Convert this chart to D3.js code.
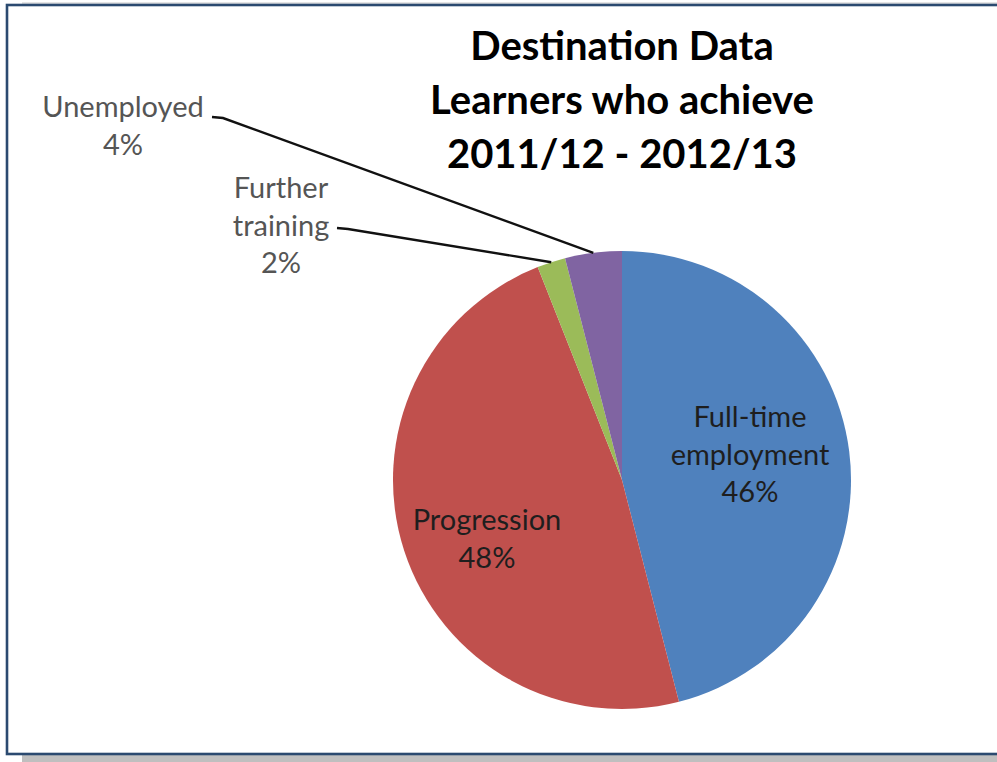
<!DOCTYPE html>
<html>
<head>
<meta charset="utf-8">
<script src="https://cdn.jsdelivr.net/npm/d3@7"></script>
<style>
  body { margin: 0; background: #fff; }
  svg { display: block; }
</style>
</head>
<body>
<svg id="chart" width="997" height="762"></svg>
<script>
// Slices, clockwise from 12 o'clock
const categories = ["Full-time employment", "Progression", "Further training", "Unemployed"];
const values = [46, 48, 2, 4];
const labelLines = [["Full-time", "employment"], ["Progression"], ["Further", "training"], ["Unemployed"]];
const colours = ["#4F81BD", "#C0504D", "#9BBB59", "#8064A2"];
const titleLines = ["Destination Data", "Learners who achieve", "2011/12 - 2012/13"];

const FONT = "Lato, 'Open Sans', sans-serif";
const width = 997, height = 762;
const cx = 622, cy = 480, radius = 229;

// where each label block sits (centre x, first baseline) and whether it gets a leader line
const labelPlace = [
    { x: 750, y: 427, inside: true },
    { x: 487, y: 530, inside: true },
    { x: 281, y: 198, inside: false, lineFrom: [337, 228] },
    { x: 123, y: 117, inside: false, lineFrom: [212, 117] }
];
const LINE_GAP = 37.5;

const svg = d3.select("#chart");

// drop shadow under the frame
svg.append("rect")
    .attr("x", 22).attr("y", 748)
    .attr("width", width).attr("height", 20)
    .attr("fill", "#bfbfbf");
svg.append("line")
    .attr("x1", 22).attr("x2", width)
    .attr("y1", 3).attr("y2", 3)
    .attr("stroke", "#c8c8c8").attr("stroke-width", 1);

// frame
svg.append("rect")
    .attr("x", 7).attr("y", 5)
    .attr("width", width + 20).attr("height", 749)
    .attr("fill", "#fff")
    .attr("stroke", "#2b4a70")
    .attr("stroke-width", 2.6);

// title
svg.append("text")
    .attr("x", cx)
    .attr("text-anchor", "middle")
    .attr("font-family", FONT)
    .attr("font-weight", "bold")
    .attr("font-size", 40)
    .attr("fill", "#000")
    .selectAll("tspan")
    .data(titleLines)
    .join("tspan")
    .attr("x", cx)
    .attr("y", (d, i) => 60 + i * 54)
    .text(d => d);

const pie = d3.pie().sort(null).value(d => d.value);
const arcs = pie(categories.map((c, i) => ({ name: c, value: values[i], idx: i })));
const arc = d3.arc().innerRadius(0).outerRadius(radius);
const colour = d3.scaleOrdinal().domain(categories).range(colours);

const g = svg.append("g").attr("transform", `translate(${cx},${cy})`);

g.selectAll("path.slice")
    .data(arcs)
    .join("path")
    .attr("class", "slice")
    .attr("d", arc)
    .attr("fill", d => colour(d.data.name));

// leader lines for the thin slices
const edgeArc = d3.arc().innerRadius(radius).outerRadius(radius);
arcs.forEach((d, i) => {
    const p = labelPlace[i];
    if (p.inside) return;
    const [ex, ey] = edgeArc.centroid(d);
    const [sx, sy] = p.lineFrom;
    svg.append("path")
        .attr("d", d3.line()([[sx, sy], [sx + 11, sy + 1], [cx + ex, cy + ey]]))
        .attr("fill", "none")
        .attr("stroke", "#111")
        .attr("stroke-width", 2.4);
});

// slice labels
arcs.forEach((d, i) => {
    const p = labelPlace[i];
    const lines = labelLines[i].concat([d3.format(".0f")(d.data.value) + "%"]);
    svg.append("text")
        .attr("text-anchor", "middle")
        .attr("font-family", FONT)
        .attr("font-size", 29)
        .attr("fill", p.inside ? "#1e1e1e" : "#555")
        .selectAll("tspan")
        .data(lines)
        .join("tspan")
        .attr("x", p.x)
        .attr("y", (t, k) => p.y + k * LINE_GAP)
        .text(t => t);
});
</script>
</body>
</html>
